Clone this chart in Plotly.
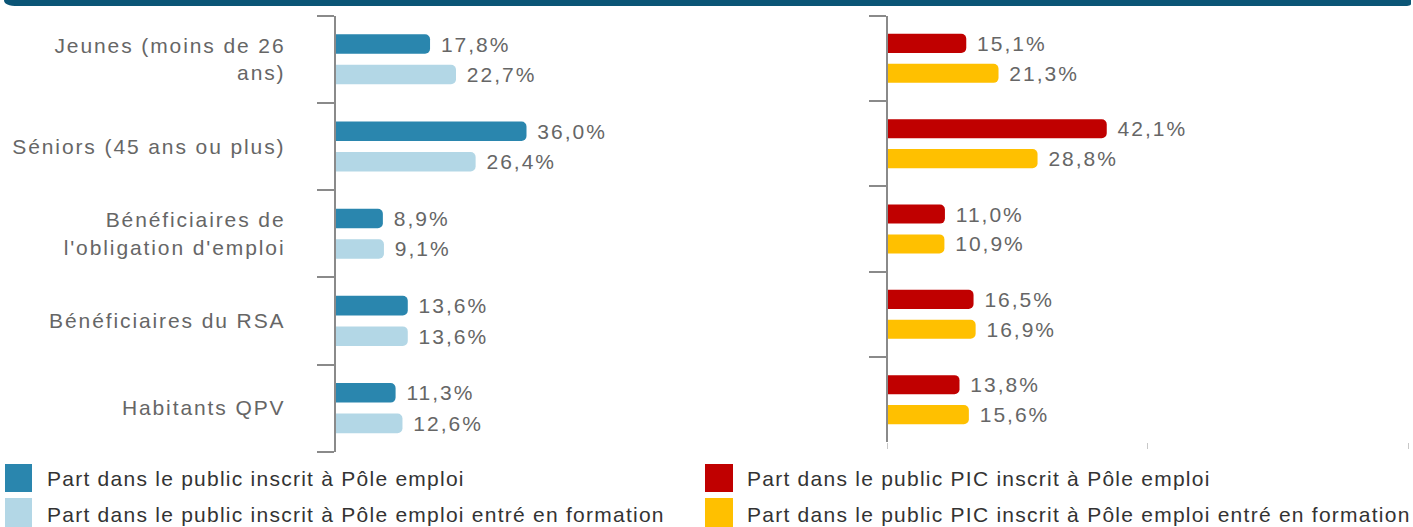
import plotly.graph_objects as go

# ---- data ----
categories = ["Jeunes (moins de 26<br>ans)", "Séniors (45 ans ou plus)",
              "Bénéficiaires de<br>l'obligation d'emploi", "Bénéficiaires du RSA",
              "Habitants QPV"]
pe_inscrit = [17.8, 36.0, 8.9, 13.6, 11.3]
pe_formation = [22.7, 26.4, 9.1, 13.6, 12.6]
pic_inscrit = [15.1, 42.1, 11.0, 16.5, 13.8]
pic_formation = [21.3, 28.8, 10.9, 16.9, 15.6]
series_names = ["Part dans le public inscrit à Pôle emploi",
                "Part dans le public inscrit à Pôle emploi entré en formation",
                "Part dans le public PIC inscrit à Pôle emploi",
                "Part dans le public PIC inscrit à Pôle emploi entré en formation"]
colors = ["#2a86ae", "#b3d7e6", "#c00000", "#ffc000"]
x_ticks_right = [0, 50, 100]

W, H = 1413, 527
FONT = "Liberation Sans"
VAL_TPL = "<span style='letter-spacing:2px'>\u00a0%{x:.1f}%</span>"


def px_x(p):
    return p / W


def px_y(p):
    return 1 - p / H


fig = go.Figure()
specs = [(pe_inscrit, "x", "y", 0), (pe_formation, "x", "y", 1),
         (pic_inscrit, "x2", "y2", 2), (pic_formation, "x2", "y2", 3)]
for vals, xa, ya, i in specs:
    fig.add_trace(go.Bar(
        y=categories, x=vals, orientation="h", name=series_names[i],
        marker=dict(color=colors[i], cornerradius=5, line=dict(width=0)),
        texttemplate=VAL_TPL, textposition="outside", cliponaxis=False,
        constraintext="none",
        textfont=dict(family=FONT, size=21, color="#666666"),
        xaxis=xa, yaxis=ya, showlegend=False, offsetgroup=str(i % 2)))

SP = "<span style='letter-spacing:1.9px'>"
ticktext = [SP + c.replace("<br>", "</span><br>" + SP) + "</span>" for c in categories]

axis_common = dict(showline=True, linecolor="#8a8a8a", linewidth=2,
                   ticks="outside", ticklen=17, tickwidth=2, tickcolor="#8a8a8a",
                   tickson="boundaries", autorange="reversed", type="category",
                   showgrid=False, zeroline=False, automargin=False)

fig.update_layout(
    width=W, height=H, margin=dict(l=0, r=0, t=0, b=0),
    paper_bgcolor="white", plot_bgcolor="white",
    barmode="group", bargap=0.30, bargroupgap=0.36,
    separators=", ",
    font=dict(family=FONT, color="#666666"),
    xaxis=dict(domain=[px_x(335.7), px_x(865.7)], range=[0, 100], anchor="y",
               showline=False, showgrid=False, zeroline=False, showticklabels=False,
               ticks="", fixedrange=True),
    yaxis=dict(domain=[px_y(451.7), px_y(15.7)], anchor="x",
               tickvals=categories, ticktext=ticktext, ticklabelstandoff=44,
               tickfont=dict(family=FONT, size=21, color="#666666"), **axis_common),
    xaxis2=dict(domain=[px_x(887.7), px_x(1408)], range=[0, 100], anchor="y2",
                showline=False, showgrid=False, zeroline=False, showticklabels=False,
                ticks="outside", tickvals=x_ticks_right, ticklen=6, tickwidth=1,
                tickcolor="#c8c8c8"),
    yaxis2=dict(domain=[px_y(442.3), px_y(15.7)], anchor="x2", showticklabels=False,
                **axis_common),
)

# top banner
x0, x1, yb = px_x(4), px_x(1411), px_y(6)
fig.add_shape(type="path", xref="paper", yref="paper",
              path=f"M {x0},1.01 L {x1},1.01 L {x1},{yb + 0.004} Q {x1},{yb} {px_x(1404)},{yb} "
                   f"L {px_x(18)},{yb} Q {x0},{yb} {x0},1.0",
              fillcolor="#0b5576", line=dict(width=0))

# legend (swatches + labels)
legend_items = [
    (0, 5, 32, 464, 492, 45, 478),
    (1, 5, 32, 498, 527, 45, 514),
    (2, 705, 733, 464, 492, 745, 478),
    (3, 705, 733, 498, 527, 745, 514),
]
for i, sx0, sx1, sy0, sy1, tx, ty in legend_items:
    fig.add_shape(type="rect", xref="paper", yref="paper",
                  x0=px_x(sx0), x1=px_x(sx1), y0=px_y(sy1), y1=px_y(sy0),
                  fillcolor=colors[i], line=dict(width=0))
    fig.add_annotation(xref="paper", yref="paper", x=px_x(tx), y=px_y(ty),
                       xanchor="left", yanchor="middle", showarrow=False,
                       text="<span style='letter-spacing:1.25px'>" + series_names[i] + "</span>",
                       font=dict(family=FONT, size=21, color="#333333"))

fig.write_html("out.html", config={"displayModeBar": False},
               post_script="document.body.style.margin='0';document.body.style.overflow='hidden';")
